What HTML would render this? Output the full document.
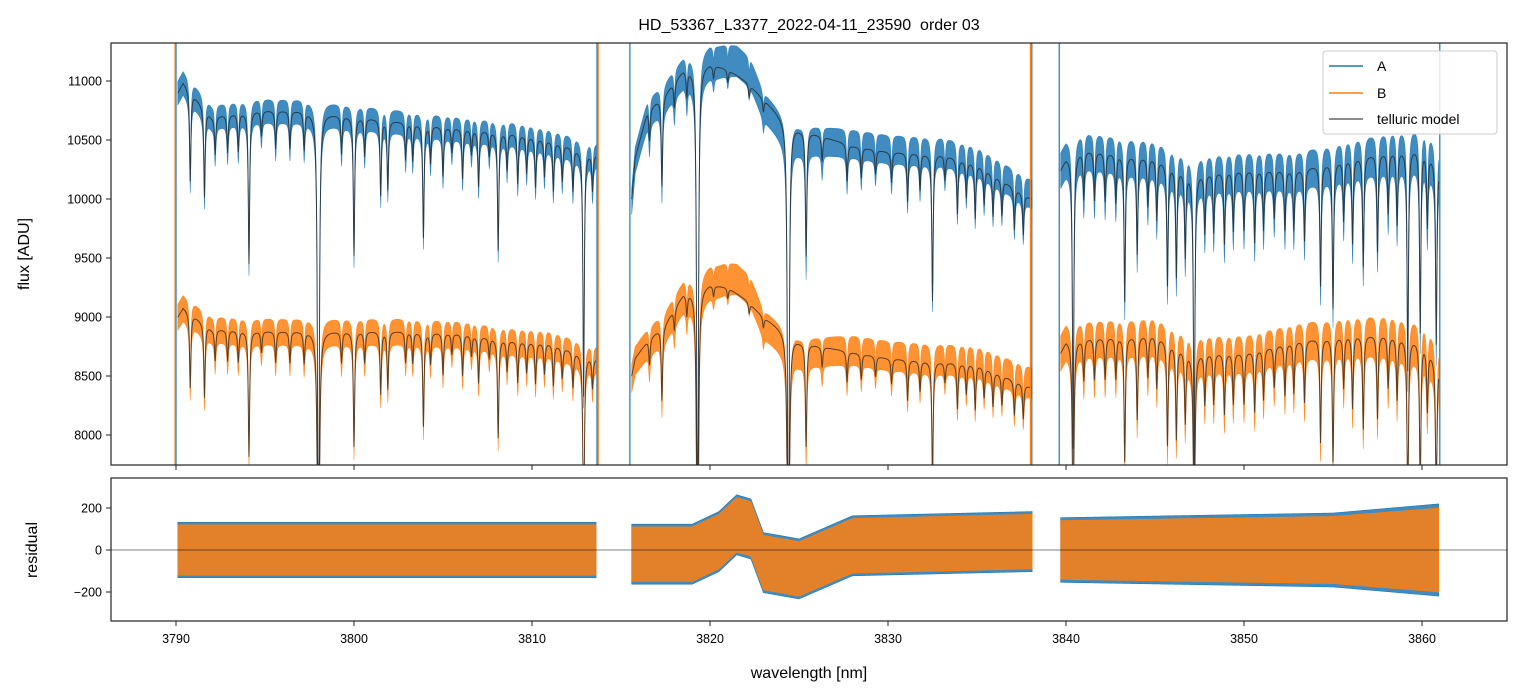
<!DOCTYPE html>
<html><head><meta charset="utf-8"><style>
html,body{margin:0;padding:0;background:#fff;overflow:hidden;width:1520px;height:696px;}
svg{display:block;}
svg text{font-family:"Liberation Sans","DejaVu Sans",sans-serif;fill:#000;}
</style></head><body>
<svg id="chart" width="1520" height="696" viewBox="0 0 1520 696" xmlns="http://www.w3.org/2000/svg">
<defs>
<clipPath id="clipTop"><rect x="111" y="43" width="1396" height="422"/></clipPath>
<clipPath id="clipBot"><rect x="111" y="478" width="1396" height="143"/></clipPath>
</defs>
<text x="809" y="30" font-size="16" text-anchor="middle" style="white-space:pre">HD_53367_L3377_2022-04-11_23590  order 03</text>
<g id="topData" clip-path="url(#clipTop)"></g>
<g id="botData" clip-path="url(#clipBot)"></g>
<g id="axesG"></g>
<text transform="translate(29,254) rotate(-90)" font-size="16" text-anchor="middle">flux [ADU]</text>
<text transform="translate(37,550) rotate(-90)" font-size="16" text-anchor="middle">residual</text>
<text x="809" y="678" font-size="16" text-anchor="middle">wavelength [nm]</text>
<g>
<rect x="1323" y="51" width="174" height="83" rx="3" fill="#fff" fill-opacity="0.85" stroke="#ccc"/>
<line x1="1329" y1="66" x2="1363" y2="66" stroke="#1f77b4" stroke-width="1.5"/>
<text x="1377" y="71" font-size="14">A</text>
<line x1="1329" y1="93" x2="1363" y2="93" stroke="#ff7f0e" stroke-width="1.5"/>
<text x="1377" y="98" font-size="14">B</text>
<line x1="1329" y1="119" x2="1363" y2="119" stroke="#666" stroke-width="1.5"/>
<text x="1377" y="124" font-size="14">telluric model</text>
</g>
</svg>
<script>
const segStart=[3790.1,3815.6,3839.7];
const segEnd=[3813.6,3838.1,3860.95];
const knotWl=[3790.1,3790.4,3792,3794.5,3797,3800,3803,3806,3809,3811,3813.6,
 3815.6,3815.8,3816.5,3817.5,3818.5,3820,3821,3822,3823,3824,3825,3826,3828,3830,3833,3835,3838.1,
 3839.7,3840,3841,3845,3847,3850,3853,3856,3858,3860,3860.95];
const knotA=[10900,10990,10700,10750,10750,10700,10650,10600,10560,10500,10380,
 10000,10350,10750,10900,11100,11150,11100,11000,10850,10700,10600,10550,10450,10400,10380,10300,10000,
 10250,10350,10420,10350,10220,10250,10250,10350,10400,10450,10300];
const knotB=[9000,9080,8900,8880,8880,8880,8880,8860,8800,8780,8650,
 8500,8650,8800,8950,9200,9280,9250,9150,9000,8900,8800,8760,8700,8650,8620,8600,8400,
 8700,8800,8820,8850,8700,8700,8800,8850,8850,8800,8600];
const lineWl=[3790.8,3791.6,3792.2,3792.9,3793.5,3794.1,3794.8,3795.6,3796.4,3797.2,3798.0,3799.3,3800.0,3800.6,3801.5,3801.9,3802.9,3803.3,3803.9,3804.3,3805.0,3805.5,3806.1,3806.6,3807.0,3807.6,3808.1,3808.6,3809.2,3809.7,3810.2,3810.7,3811.2,3811.7,3812.3,3812.9,3813.4,
 3816.6,3817.3,3818.0,3818.7,3819.3,3820.2,3821.0,3822.2,3823.0,3824.4,3825.4,3826.3,3827.7,3828.5,3829.3,3830.2,3831.1,3831.8,3832.5,3833.2,3833.9,3834.4,3834.9,3835.4,3835.9,3836.4,3837.1,3837.6,
 3840.4,3841.0,3841.6,3842.2,3842.8,3843.3,3844.0,3844.6,3845.1,3845.7,3846.2,3846.7,3847.2,3847.8,3848.3,3848.9,3849.4,3850.0,3850.6,3851.1,3851.7,3852.3,3852.8,3853.4,3854.3,3855.0,3855.6,3856.1,3856.7,3857.5,3858.1,3858.6,3859.2,3859.9,3860.3,3860.8];
const lineDepth=[.07,.07,.03,.03,.03,.12,.02,.03,.03,.03,.5,.03,.11,.03,.06,.055,.03,.03,.09,.03,.04,.02,.04,.02,.045,.02,.095,.03,.04,.03,.04,.03,.04,.03,.035,.2,.03,
 .025,.07,.02,.02,.5,.01,.01,.01,.01,.5,.1,.02,.03,.025,.02,.025,.04,.03,.12,.02,.045,.03,.045,.03,.035,.03,.035,.035,
 .24,.04,.04,.04,.04,.12,.08,.04,.05,.1,.09,.07,.25,.05,.05,.06,.05,.05,.06,.05,.04,.05,.05,.06,.1,.12,.05,.07,.09,.08,.05,.06,.18,.15,.06,.15];
const noiseWl=[3790,3813.6,3815.6,3820,3823,3838.1,3839.7,3855,3861];
const noiseA=[100,100,110,140,120,120,150,160,180];
const noiseB=[110,110,120,140,120,130,150,160,180];
const resWl=[3790,3800,3813.6,3815.6,3819,3820.5,3821.5,3822.3,3823,3825,3828,3838.1,3839.7,3861];
const resOff=[0,0,0,-20,-20,40,120,100,-60,-90,20,40,0,0];
const resAmpWl=[3790,3813.6,3815.6,3838.1,3839.7,3855,3861];
const resAmp=[120,120,130,130,140,160,200];
const xTicks=[3790,3800,3810,3820,3830,3840,3850,3860];
const yTicksTop=[8000,8500,9000,9500,10000,10500,11000];
const yTicksBot=[-200,0,200];

const X=w=>176+(w-3790)*17.8;
const YT=f=>Math.max(40,Math.min(470,81+(11000-f)*0.118));
const YB=r=>Math.max(475,Math.min(624,550-r*0.21));
const NS="http://www.w3.org/2000/svg";
function interp(xs,ys,x){
  if(x<=xs[0])return ys[0];
  for(let i=1;i<xs.length;i++){if(x<=xs[i]){const t=(x-xs[i-1])/(xs[i]-xs[i-1]);return ys[i-1]+t*(ys[i]-ys[i-1]);}}
  return ys[ys.length-1];
}
function absorb(w){let m=1;for(let i=0;i<lineWl.length;i++){const d=(w-lineWl[i])/0.045;if(Math.abs(d)<60)m*=1-lineDepth[i]/(1+d*d);}return m;}
function segKnots(s,arr){const xs=[],ys=[];for(let i=0;i<knotWl.length;i++){if(knotWl[i]>=segStart[s]-1e-6&&knotWl[i]<=segEnd[s]+1e-6){xs.push(knotWl[i]);ys.push(arr[i]);}}return [xs,ys];}
function mk(tag,attrs,parent){const e=document.createElementNS(NS,tag);for(const k in attrs)e.setAttribute(k,attrs[k]);parent.appendChild(e);return e;}
const topG=document.getElementById('topData'),botG=document.getElementById('botData'),ax=document.getElementById('axesG');
const step=0.02;
const series=[['a',knotA,noiseA,'#1f77b4',1.1],['b',knotB,noiseB,'#ff7f0e',1.0]];
const models=[];
for(const [nm,kn,nz,col,rs] of series){
  for(let s=0;s<3;s++){
    const [kx,ky]=segKnots(s,kn);
    const up=[],lo=[],mod=[],ru=[],rl=[];
    for(let w=segStart[s];w<=segEnd[s]+1e-9;w+=step){
      const m=interp(kx,ky,w)*absorb(w);
      const off=interp(resWl,resOff,w),a=interp(noiseWl,nz,w);
      const x=X(w).toFixed(2);
      up.push(x+','+YT(m+off+a).toFixed(2));lo.unshift(x+','+YT(m+off-a).toFixed(2));
      mod.push(x+','+YT(m).toFixed(2));
      const ra=interp(resAmpWl,resAmp,w)*rs;
      ru.push(x+','+YB(off+ra).toFixed(2));rl.unshift(x+','+YB(off-ra).toFixed(2));
    }
    const p=mk('polygon',{points:up.concat(lo).join(' '),fill:col,'fill-opacity':0.85,stroke:col,'stroke-width':0.6,'stroke-opacity':0.8},topG);
    
    
    models.push(mod);
    const r=mk('polygon',{points:ru.concat(rl).join(' '),fill:col,'fill-opacity':0.85,stroke:col,'stroke-width':0.6},botG);
    
    
  }
}
for(const mod of models){
  const l=mk('polyline',{points:mod.join(' '),fill:'none',stroke:'#222','stroke-opacity':0.75,'stroke-width':1},topG);
  
  
}
const edges=[[3790.0,'#1f77b4'],[3789.95,'#ff7f0e'],[3813.65,'#1f77b4'],[3813.72,'#ff7f0e'],[3815.5,'#1f77b4'],[3838.0,'#ff7f0e'],[3838.08,'#1f77b4'],[3839.62,'#1f77b4'],[3861.0,'#1f77b4']];
for(const [w,c] of edges){
  const e=mk('line',{x1:X(w),x2:X(w),y1:43,y2:465,stroke:c,'stroke-width':1.2},topG);
  
  
}
const z=mk('line',{x1:111,x2:1507,y1:YB(0),y2:YB(0),stroke:'#000','stroke-width':0.6},botG);


for(const [y,h,n] of [[43,422,'flux-axes-frame'],[478,143,'residual-axes-frame']]){
  const r=mk('rect',{x:111,y:y,width:1396,height:h,fill:'none',stroke:'#222','stroke-width':1.2},ax);
  
  
}
for(const t of xTicks){
  const x=X(t);
  mk('line',{x1:x,x2:x,y1:465,y2:470,stroke:'#222','stroke-width':1},ax);
  mk('line',{x1:x,x2:x,y1:621,y2:626,stroke:'#222','stroke-width':1},ax);
  const tx=mk('text',{x:x,y:643,'font-size':12.5,'text-anchor':'middle'},ax);
  tx.textContent=t;
  
  
}
for(const t of yTicksTop){
  const y=YT(t);
  mk('line',{x1:106,x2:111,y1:y,y2:y,stroke:'#222','stroke-width':1},ax);
  const tx=mk('text',{x:102,y:y+4.5,'font-size':12.5,'text-anchor':'end'},ax);
  tx.textContent=t;
  
  
}
for(const t of yTicksBot){
  const y=YB(t);
  mk('line',{x1:106,x2:111,y1:y,y2:y,stroke:'#222','stroke-width':1},ax);
  const tx=mk('text',{x:102,y:y+4.5,'font-size':12.5,'text-anchor':'end'},ax);
  tx.textContent=t<0?'\u2212'+(-t):t;
  
  
}
</script>
</body></html>
